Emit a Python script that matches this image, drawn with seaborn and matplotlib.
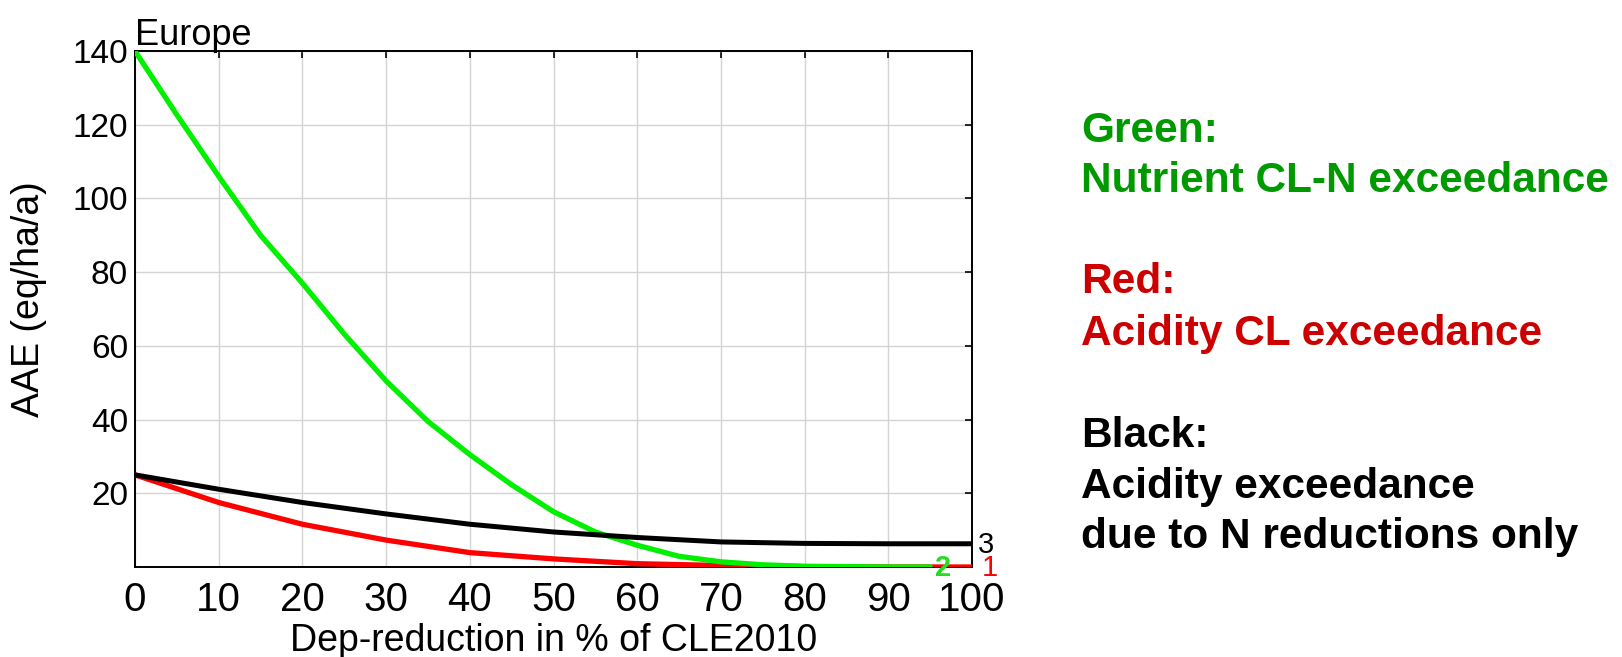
import matplotlib
matplotlib.use("Agg")
import matplotlib.pyplot as plt
import seaborn as sns
import pandas as pd

# data
x_red = [0, 10, 20, 30, 40, 50, 60, 70, 80, 90, 100]
red = [25, 17.5, 11.6, 7.3, 3.9, 2.2, 0.9, 0.4, 0.1, 0.0, 0.0]

x_green = [0, 5, 10, 15, 20, 25, 30, 35, 40, 45, 50, 55, 60, 65, 70, 75, 80, 85, 90, 95]
green = [140, 122.7, 106, 90, 77, 63.2, 50.5, 39.5, 30.5, 22.3, 15, 9.5, 5.9, 2.9, 1.4, 0.6, 0.2, 0.1, 0.0, 0.0]

x_black = [0, 10, 20, 30, 40, 50, 60, 70, 80, 90, 100]
black = [25, 21.1, 17.5, 14.4, 11.6, 9.5, 8.0, 6.8, 6.4, 6.3, 6.3]

sns.set_style("white")
plt.rcParams['font.family'] = ['Liberation Sans', 'DejaVu Sans']
plt.rcParams['text.color'] = 'black'
plt.rcParams['axes.labelcolor'] = 'black'
plt.rcParams['xtick.color'] = 'black'
plt.rcParams['ytick.color'] = 'black'

fig = plt.figure(figsize=(16.22, 6.57), dpi=100)
ax = fig.add_axes([0.0832, 0.137, 0.5161, 0.7854])

df_red = pd.DataFrame({'x': x_red, 'y': red})
df_green = pd.DataFrame({'x': x_green, 'y': green})
df_black = pd.DataFrame({'x': x_black, 'y': black})

sns.lineplot(data=df_red, x='x', y='y', color='#ff0000', linewidth=3.8, ax=ax, zorder=3)
sns.lineplot(data=df_green, x='x', y='y', color='#00f000', linewidth=3.8, ax=ax, zorder=4)
sns.lineplot(data=df_black, x='x', y='y', color='black', linewidth=3.6, ax=ax, zorder=5)

# end labels
ax.text(95.6, green[-1] - 0.3, '2', color='#22dd22', fontsize=21, fontweight='bold',
        va='center', ha='left', zorder=6)
ax.text(101.1, red[-1] - 0.3, '1', color='#ff0000', fontsize=21, va='center', ha='left', clip_on=False)
ax.text(100.7, black[-1] - 0.3, '3', color='black', fontsize=21, va='center', ha='left', clip_on=False)

ax.set_xlim(0, 100)
ax.set_ylim(0, 140)
ax.set_xticks(range(0, 101, 10))
ax.set_yticks(range(20, 141, 20))
ax.tick_params(axis='x', labelsize=29, direction='in', top=True, length=5, width=1.2, pad=10)
ax.tick_params(axis='y', labelsize=24, direction='in', right=True, length=5, width=1.2, pad=5)
ax.grid(True, color='#d4d4d4', linewidth=1.0)
ax.set_axisbelow(True)
for s in ax.spines.values():
    s.set_color('black')
    s.set_linewidth(1.4)

ax.set_xlabel('Dep-reduction in % of CLE2010', fontsize=27, labelpad=3)
ax.set_ylabel('AAE (eq/ha/a)', fontsize=27, labelpad=13)
ax.yaxis.set_label_coords(-0.105, 0.52)
ax.set_title('Europe', loc='left', fontsize=26, pad=4)

# explanatory text on the right (baselines in pixels from the top)
notes = [
    ('Green:', '#009900', 141.7),
    ('Nutrient CL-N exceedance', '#009900', 191.7),
    ('Red:', '#cc0000', 293),
    ('Acidity CL exceedance', '#cc0000', 345),
    ('Black:', 'black', 446.7),
    ('Acidity exceedance', 'black', 498),
    ('due to N reductions only', 'black', 548),
]
for txt, col, base in notes:
    fig.text(1081, 657 - base, txt, transform=None, color=col, fontsize=30.5,
             fontweight='bold', va='baseline', ha='left')

fig.savefig('out.png', dpi=100)
